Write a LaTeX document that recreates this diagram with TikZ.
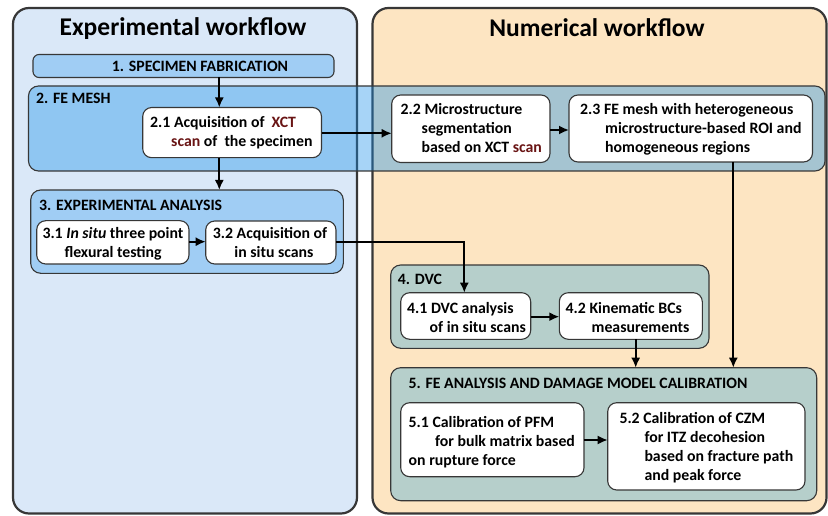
\documentclass[tikz,border=0pt]{standalone}
\usepackage{fontspec}
\setmainfont{Carlito}
\usetikzlibrary{arrows.meta}
\definecolor{panelL}{RGB}{218,232,248}
\definecolor{panelR}{RGB}{253,229,194}
\definecolor{grpblue}{RGB}{160,205,244}
\definecolor{grpteal}{RGB}{182,207,203}
\definecolor{meshblue}{RGB}{23,143,234}
\definecolor{edgec}{RGB}{55,55,55}
\definecolor{xred}{RGB}{105,20,20}
\newcommand{\rbox}[6]{\node[#1, anchor=north west, minimum width={(#5-#3)*1pt}, minimum height={(#6-#4)*1pt}, inner sep=0pt, outer sep=0pt] (#2) at (#3,#4) {};}
\newcommand{\mlines}[1]{\begin{tabular}[t]{@{}l@{}}#1\end{tabular}}
\begin{document}
\begin{tikzpicture}[x=1pt,y=-1pt,
  panel/.style={draw=edgec, line width=2.2pt, rounded corners=16pt},
  grp/.style={draw=edgec, line width=1.1pt, rounded corners=10pt},
  stepbox/.style={draw=edgec, fill=white, line width=1.1pt, rounded corners=9pt},
  txt/.style={inner sep=0pt, anchor=base west, font=\bfseries\fontsize{15.8}{19}\selectfont},
  ttl/.style={inner sep=0pt, anchor=base, font=\bfseries\fontsize{25.5}{30}\selectfont},
  arr/.style={line width=1.8pt, -{Latex[length=10pt,width=9pt]}}]
\useasboundingbox (0,0) rectangle (828,516);
% panels
\rbox{panel, fill=panelL}{pL}{13}{8}{357}{513.5}
\rbox{panel, fill=panelR}{pR}{372.5}{8}{826.5}{513.5}
\node[ttl] (tL) at (183,36) {Experimental workflow};
\node[ttl] (tR) at (597,36.5) {Numerical workflow};
% group 1
\rbox{grp, fill=grpblue, rounded corners=6pt}{g1}{33}{54.5}{334}{77.5}
\node[txt, anchor=base] (l1) at (200,72) {1. SPECIMEN FABRICATION};
% group 2 (semi transparent)
\rbox{grp, fill=meshblue, fill opacity=0.38}{g2}{28.5}{86}{825}{171}
\node[txt] (l2) at (36,104) {2. FE MESH};
\rbox{stepbox}{n21}{142.7}{107.5}{321.5}{157.7}
\node[txt] (t21) at (150,128) {\mlines{2.1 Acquisition of \ \textcolor{xred}{XCT}\\\hspace*{21pt}\textcolor{xred}{scan} of \ the specimen}};
\rbox{stepbox}{n22}{391.7}{95}{550}{162.5}
\node[txt] (t22) at (400.5,115) {\mlines{2.2 Microstructure\\\hspace*{21pt}segmentation\\\hspace*{21pt}based on XCT \textcolor{xred}{scan}}};
\rbox{stepbox}{n23}{569}{95}{812.5}{162}
\node[txt] (t23) at (580,115) {\mlines{2.3 FE mesh with heterogeneous\\\hspace*{25pt}microstructure-based ROI and\\\hspace*{25pt}homogeneous regions}};
% group 3
\rbox{grp, fill=grpblue}{g3}{30.7}{190}{343.3}{273.3}
\node[txt] (l3) at (39,210.5) {3. EXPERIMENTAL ANALYSIS};
\rbox{stepbox}{n31}{36.7}{220.7}{189}{264}
\node[txt] (t31) at (42.3,238.3) {\mlines{3.1 \textit{In situ} three point\\\hspace*{22pt}flexural testing}};
\rbox{stepbox}{n32}{205.7}{221}{336}{264}
\node[txt] (t32) at (212.7,239) {\mlines{3.2 Acquisition of\\\hspace*{21.5pt}in situ scans}};
% group 4
\rbox{grp, fill=grpteal}{g4}{390.7}{265}{709}{348.3}
\node[txt] (l4) at (397.7,284) {4. DVC};
\rbox{stepbox}{n41}{400.7}{292.7}{530.7}{339.3}
\node[txt] (t41) at (407,313.3) {\mlines{4.1 DVC analysis\\\hspace*{22.5pt}of in situ scans}};
\rbox{stepbox}{n42}{559.3}{292.7}{702.3}{339.3}
\node[txt] (t42) at (565.5,313.3) {\mlines{4.2 Kinematic BCs\\\hspace*{26pt}measurements}};
% group 5
\rbox{grp, fill=grpteal}{g5}{390.7}{367.7}{816.7}{500.7}
\node[txt] (l5) at (408.5,388) {5. FE ANALYSIS AND DAMAGE MODEL CALIBRATION};
\rbox{stepbox}{n51}{400.7}{402.7}{584}{476.7}
\node[txt] (t51) at (408.5,427.7) {\mlines{5.1 Calibration of PFM\\\hspace*{26.5pt}for bulk matrix based\\on rupture force}};
\rbox{stepbox}{n52}{607.7}{402.7}{805}{490}
\node[txt] (t52) at (619.3,423) {\mlines{5.2 Calibration of CZM\\\hspace*{25pt}for ITZ decohesion\\\hspace*{25pt}based on fracture path\\\hspace*{25pt}and peak force}};
% connectors
\draw[arr] (g1.south -| 219.3,0) -- (n21.north -| 219.3,0);
\draw[arr] (n21.south -| 219.3,0) -- (g3.north -| 219.3,0);
\draw[arr] (n21.east |- 0,133.3) -- (n22.west |- 0,133.3);
\draw[arr] (n22.east |- 0,130) -- (n23.west |- 0,130);
\draw[arr] (n31.east |- 0,241.7) -- (n32.west |- 0,241.7);
\draw[arr] (n32.east |- 0,241.7) -| (n41.north -| 464.3,0);
\draw[arr] (n41.east |- 0,316.7) -- (n42.west |- 0,316.7);
\draw[arr] (n42.south -| 635.7,0) -- (g5.north -| 635.7,0);
\draw[arr] (n23.south -| 733.3,0) -- (g5.north -| 733.3,0);
\draw[arr] (n51.east |- 0,440) -- (n52.west |- 0,440);
\end{tikzpicture}
\end{document}
